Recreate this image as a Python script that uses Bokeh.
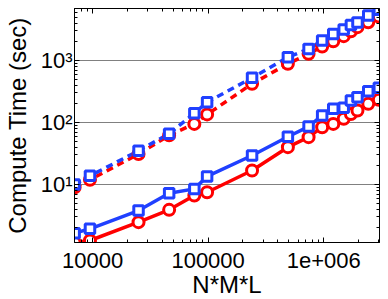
from bokeh.plotting import figure
from bokeh.models import FixedTicker, LogAxis, Range1d
from bokeh.embed import file_html
from bokeh.resources import INLINE

# ---- data ----
nml = [7000, 9500, 25000, 46000, 76000, 98000, 240000, 490000, 740000, 970000,
       1210000, 1490000, 1720000, 1960000, 2430000, 3000000]
blue_dashed = [10.0, 13.8, 35, 66, 141, 212, 526, 1130, 1540, 2100,
               2680, 3160, 3740, 4100, 5320, 6600]
red_dashed = [9.0, 11.9, 31, 62, 95, 135, 421, 885, 1280, 1680,
              2050, 2470, 2970, 3450, 4150, 5130]
blue_solid = [1.64, 1.93, 3.8, 7.2, 8.5, 13.5, 29.4, 59, 86, 130,
              166, 173, 226, 256, 320, 363]
red_solid = [1.16, 1.25, 2.47, 3.9, 6.65, 7.5, 16.8, 40, 58, 84,
             95, 115, 137, 156, 200, 233]

x_ticks = [10000, 100000, 1000000]
x_tick_labels = ["10000", "100000", "1e+006"]
y_ticks = [10, 100, 1000]
y_tick_labels = ["10\u00b9", "10\u00b2", "10\u00b3"]
x_label = "N*M*L"
y_label = "Compute Time (sec)"

BLUE = "#2040ff"
RED = "#ff0000"
FONT = "Liberation Sans"

x_minor = [m * 10 ** e for e in range(3, 7) for m in range(2, 10)]
y_minor = [m * 10 ** e for e in range(0, 4) for m in range(2, 10)]

p = figure(x_axis_type="log", y_axis_type="log",
           x_range=Range1d(6980, 3.04e6), y_range=Range1d(1.16, 6900),
           frame_width=305, frame_height=234,
           min_border_left=73, min_border_top=8, min_border_right=10,
           min_border_bottom=20,
           output_backend="svg", toolbar_location=None)

p.background_fill_color = "white"
p.border_fill_color = "white"
p.outline_line_color = "black"
p.outline_line_width = 1

xt = FixedTicker(ticks=x_ticks, minor_ticks=x_minor)
yt = FixedTicker(ticks=y_ticks, minor_ticks=y_minor)

p.xaxis.ticker = xt
p.yaxis.ticker = yt
p.xaxis.major_label_overrides = dict(zip(x_ticks, x_tick_labels))
p.yaxis.major_label_overrides = dict(zip(y_ticks, y_tick_labels))

for ax in (p.xaxis[0], p.yaxis[0]):
    ax.major_tick_in = 5
    ax.major_tick_out = 0
    ax.minor_tick_in = 3
    ax.minor_tick_out = 0
    ax.axis_line_color = "black"
    ax.major_tick_line_color = "black"
    ax.minor_tick_line_color = "black"
    ax.major_label_text_font = FONT
    ax.axis_label_text_font = FONT
    ax.axis_label_text_font_style = "normal"
    ax.axis_label_text_font_size = "24px"
    ax.major_label_text_color = "black"
    ax.axis_label_text_color = "black"

p.xaxis.major_label_text_font_size = "22px"
p.yaxis.major_label_text_font_size = "22px"
p.xaxis.axis_label = x_label
p.yaxis.axis_label = y_label
p.xaxis.major_label_standoff = 10
p.xaxis.axis_label_standoff = 0
p.yaxis.major_label_standoff = 2
p.yaxis.axis_label_standoff = 7

# mirror axes (ticks only) on top and right
for side in ("above", "right"):
    ax = LogAxis(ticker=xt if side == "above" else yt)
    ax.major_label_text_font_size = "1px"
    ax.major_label_text_color = None
    ax.major_label_standoff = 0
    ax.major_tick_in = 5
    ax.major_tick_out = 0
    ax.minor_tick_in = 3
    ax.minor_tick_out = 0
    ax.axis_line_color = "black"
    p.add_layout(ax, side)

p.xgrid.visible = False
p.ygrid.ticker = yt
p.ygrid.grid_line_color = "#808080"
p.ygrid.grid_line_width = 1
p.ygrid.grid_line_alpha = 1.0

# dashed (upper) series
p.line(nml, red_dashed, line_color=RED, line_width=3.5, line_dash="7 5")
p.line(nml, blue_dashed, line_color=BLUE, line_width=3.5, line_dash="7 5")
# solid (lower) series
p.line(nml, red_solid, line_color=RED, line_width=3.5)
p.line(nml, blue_solid, line_color=BLUE, line_width=3.5)

p.scatter(nml, red_dashed, marker="circle", size=11, line_color=RED,
          line_width=3, fill_color="white")
p.scatter(nml, red_solid, marker="circle", size=11, line_color=RED,
          line_width=3, fill_color="white")
p.scatter(nml, blue_dashed, marker="square", size=9.5, line_color=BLUE,
          line_width=3, fill_color="white")
p.scatter(nml, blue_solid, marker="square", size=9.5, line_color=BLUE,
          line_width=3, fill_color="white")

open("out.html", "w").write(file_html(p, INLINE))
